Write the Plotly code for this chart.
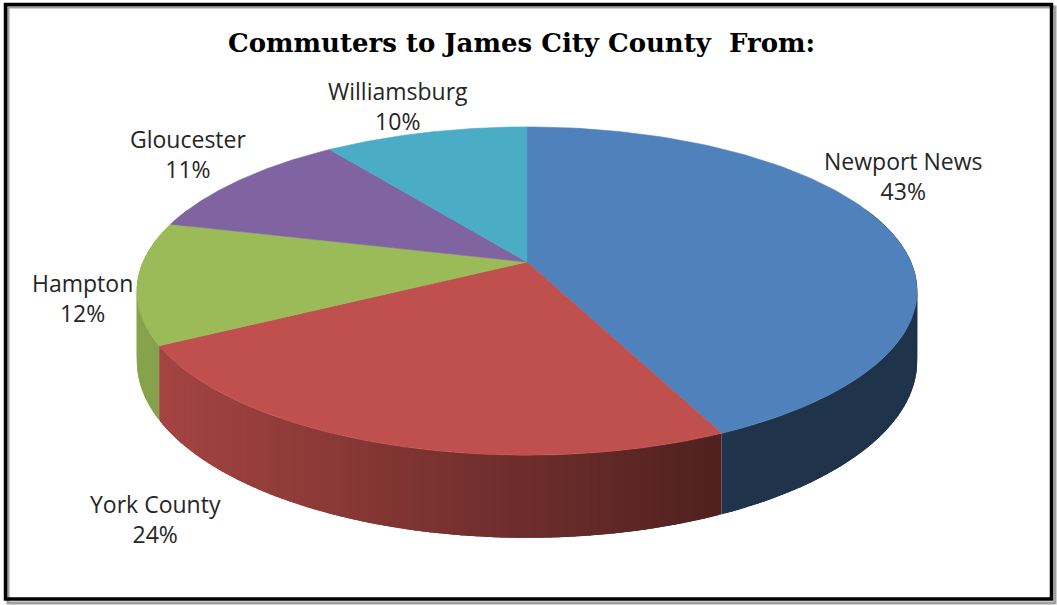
import numpy as np
import plotly.graph_objects as go

# ---- data ----
categories = ["Newport News", "York County", "Hampton", "Gloucester", "Williamsburg"]
percents = [43, 24, 12, 11, 10]
colors = ["#4F81BD", "#C0504D", "#9BBB59", "#8064A2", "#4BACC6"]
title_text = "Commuters to James City County  From:"

# ---- geometry of the tilted 3D pie (pixel space) ----
W, H = 1057, 605
cx, cy = 527, 262      # centre of top face
R, Ry = 384, 159       # radii
k = 0.177              # perspective strength
T = 68                 # thickness


def proj(theta, depth=0.0):
    u = np.sin(theta)
    v = -np.cos(theta)
    s = 1.0 / (1.0 - k * v)
    return cx + R * u * s, cy + Ry * v * s + depth * s


def hex2rgb(h):
    h = h.lstrip("#")
    return [int(h[i:i + 2], 16) for i in (0, 2, 4)]


def shade(h, f):
    r, g, b = hex2rgb(h)
    return "rgb(%d,%d,%d)" % (min(255, r * f), min(255, g * f), min(255, b * f))


total = float(sum(percents))
bounds = np.concatenate([[0], np.cumsum(percents)]) / total * 2 * np.pi

fig = go.Figure()

# side strips, back to front
strips = []
step = np.deg2rad(1.0)
ov = np.deg2rad(0.6)
for i, c in enumerate(colors):
    a0, a1 = bounds[i], bounds[i + 1]
    n = max(2, int(np.ceil((a1 - a0) / step)))
    edges = np.linspace(a0, a1, n + 1)
    for j in range(n):
        t0, t1 = edges[j], edges[j + 1]
        tm = 0.5 * (t0 + t1)
        if -np.cos(tm) < -0.35:
            continue
        lo = t0 - (ov if j > 0 else 0)
        hi = t1 + (ov if j < n - 1 else 0)
        ts = np.linspace(lo, hi, 4)
        xt, yt = proj(ts)
        xb, yb = proj(ts[::-1], T)
        xs = np.concatenate([xt, xb, [xt[0]]])
        ys = np.concatenate([yt, yb, [yt[0]]])
        xm, _ = proj(tm)
        f = float(np.clip(0.86 - 0.00080 * (xm - 160), 0.40, 0.88))
        strips.append((-np.cos(tm), xs, ys, shade(c, f)))

strips.sort(key=lambda s: s[0])
for _, xs, ys, col in strips:
    fig.add_trace(go.Scatter(x=xs, y=ys, mode="lines", fill="toself",
                             fillcolor=col, line=dict(color=col, width=0),
                             hoverinfo="skip", showlegend=False))

# top faces
for i, c in enumerate(colors):
    ts = np.linspace(bounds[i], bounds[i + 1], 120)
    xe, ye = proj(ts)
    xs = np.concatenate([[cx], xe, [cx]])
    ys = np.concatenate([[cy], ye, [cy]])
    fig.add_trace(go.Scatter(x=xs, y=ys, mode="lines", fill="toself",
                             fillcolor=c, line=dict(color=c, width=0.6),
                             hoverinfo="text", text="%s %d%%" % (categories[i], percents[i]),
                             showlegend=False))

# labels
label_pos = {
    "Newport News": (903, 176),
    "York County": (155, 519),
    "Hampton": (82, 298),
    "Gloucester": (188, 154),
    "Williamsburg": (398, 106),
}
for name, p in zip(categories, percents):
    lx, ly = label_pos[name]
    fig.add_annotation(x=lx, y=ly, xref="x", yref="y", showarrow=False,
                       text="%s<br>%d%%" % (name, p),
                       font=dict(family="Open Sans, Carlito, sans-serif", size=23, color="#262626"),
                       align="center")

fig.add_annotation(x=521, y=43, xref="x", yref="y", showarrow=False,
                   text="<b>%s</b>" % title_text,
                   font=dict(family="DejaVu Serif, serif", size=26, color="#000000"))

# border with shadow
fig.add_shape(type="rect", xref="x", yref="y", x0=8, y0=7, x1=1055, y1=603,
              line=dict(color="#a0a0a0", width=3), fillcolor="rgba(0,0,0,0)", layer="below")
fig.add_shape(type="rect", xref="x", yref="y", x0=5.5, y0=4.5, x1=1051.5, y1=599,
              line=dict(color="#000000", width=3.5), fillcolor="rgba(0,0,0,0)")

fig.update_layout(
    width=W, height=H,
    margin=dict(l=0, r=0, t=0, b=0),
    paper_bgcolor="white", plot_bgcolor="white",
    xaxis=dict(range=[0, W], visible=False, fixedrange=True),
    yaxis=dict(range=[H, 0], visible=False, fixedrange=True),
    showlegend=False,
)

fig.write_html("out.html")
